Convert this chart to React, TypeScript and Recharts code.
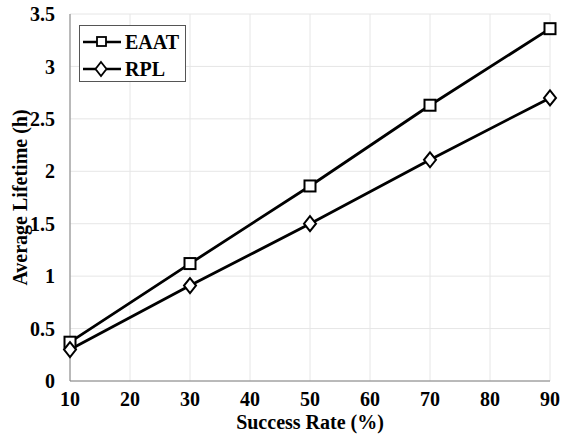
import React from "react";
import { LineChart, Line, XAxis, YAxis, CartesianGrid } from "recharts";

const successRates = [10, 30, 50, 70, 90];
const eaatValues = [0.37, 1.12, 1.86, 2.63, 3.36];
const rplValues = [0.3, 0.91, 1.5, 2.11, 2.7];
const xTicks = [10, 20, 30, 40, 50, 60, 70, 80, 90];
const yTicks = [0, 0.5, 1, 1.5, 2, 2.5, 3, 3.5];
const seriesNames = ["EAAT", "RPL"];

const data = successRates.map((x, i) => ({ x, eaat: eaatValues[i], rpl: rplValues[i] }));

const FONT = "Liberation Serif";

const SquareDot = (props: any) => {
  const { cx, cy } = props;
  if (cx == null || cy == null) return null;
  const s = 5.5;
  return <rect x={cx - s} y={cy - s} width={2 * s} height={2 * s} fill="#fff" stroke="#000" strokeWidth={2} />;
};

const DiamondDot = (props: any) => {
  const { cx, cy } = props;
  if (cx == null || cy == null) return null;
  const w = 6;
  const h = 7.5;
  return (
    <path
      d={`M${cx},${cy - h} L${cx + w},${cy} L${cx},${cy + h} L${cx - w},${cy} Z`}
      fill="#fff"
      stroke="#000"
      strokeWidth={2}
    />
  );
};

const txt = { fontFamily: FONT, fontWeight: 700 as const };

const LegendBox = () => (
  <svg width={108} height={58} style={{ display: "block" }}>
    <rect x={0.5} y={0.5} width={106} height={56} fill="#fff" stroke="#555" strokeWidth={1} />
    <line x1={4} y1={17} x2={42} y2={17} stroke="#000" strokeWidth={2.5} />
    <rect x={18} y={12} width={9} height={9} fill="#fff" stroke="#000" strokeWidth={1.8} />
    <text x={46} y={23.5} style={txt} fontSize={20} fill="#000">{seriesNames[0]}</text>
    <line x1={4} y1={44} x2={42} y2={44} stroke="#000" strokeWidth={2.5} />
    <path d="M22,37 L27.5,44 L22,51 L16.5,44 Z" fill="#fff" stroke="#000" strokeWidth={1.8} />
    <text x={46} y={50.5} style={txt} fontSize={20} fill="#000">{seriesNames[1]}</text>
  </svg>
);

export default function App() {
  return (
    <div style={{ position: "absolute", left: 0, top: 0, width: 570, height: 441, background: "#fff", fontFamily: FONT }}>
      <LineChart
        width={570}
        height={441}
        data={data}
        margin={{ top: 14, right: 20, bottom: 0, left: 0 }}
      >
        <CartesianGrid stroke="#e6e6e6" strokeWidth={1} verticalValues={xTicks} horizontalValues={yTicks} />
        <XAxis
          dataKey="x"
          type="number"
          domain={[10, 90]}
          ticks={xTicks}
          height={60}
          axisLine={{ stroke: "#808080", strokeWidth: 1 }}
          tickLine={false}
          tick={{ fill: "#000", fontSize: 20, style: txt }}
          tickMargin={5}
          label={{ value: "Success Rate (%)", position: "insideBottom", offset: 12, fill: "#000", fontSize: 20, style: txt }}
        />
        <XAxis
          xAxisId="top"
          orientation="top"
          dataKey="x"
          type="number"
          domain={[10, 90]}
          ticks={xTicks}
          height={0}
          axisLine={{ stroke: "#808080", strokeWidth: 1 }}
          tickLine={false}
          tick={false}
        />
        <YAxis
          type="number"
          domain={[0, 3.5]}
          ticks={yTicks}
          width={70}
          axisLine={{ stroke: "#808080", strokeWidth: 1 }}
          tickLine={false}
          tick={{ fill: "#000", fontSize: 20, style: txt }}
          tickMargin={9}
          label={{ value: "Average Lifetime (h)", angle: -90, position: "insideLeft", offset: 20, fill: "#000", fontSize: 20, style: { ...txt, textAnchor: "middle" } }}
        />
        <YAxis
          yAxisId="right"
          orientation="right"
          type="number"
          domain={[0, 3.5]}
          ticks={yTicks}
          width={0}
          axisLine={{ stroke: "#808080", strokeWidth: 1 }}
          tickLine={false}
          tick={false}
        />
        <Line
          dataKey="eaat"
          name={seriesNames[0]}
          stroke="#000"
          strokeWidth={2.8}
          dot={<SquareDot />}
          activeDot={false}
          isAnimationActive={false}
        />
        <Line
          dataKey="rpl"
          name={seriesNames[1]}
          stroke="#000"
          strokeWidth={2.8}
          dot={<DiamondDot />}
          activeDot={false}
          isAnimationActive={false}
        />
      </LineChart>
      <div style={{ position: "absolute", left: 79, top: 25 }}>
        <LegendBox />
      </div>
    </div>
  );
}
